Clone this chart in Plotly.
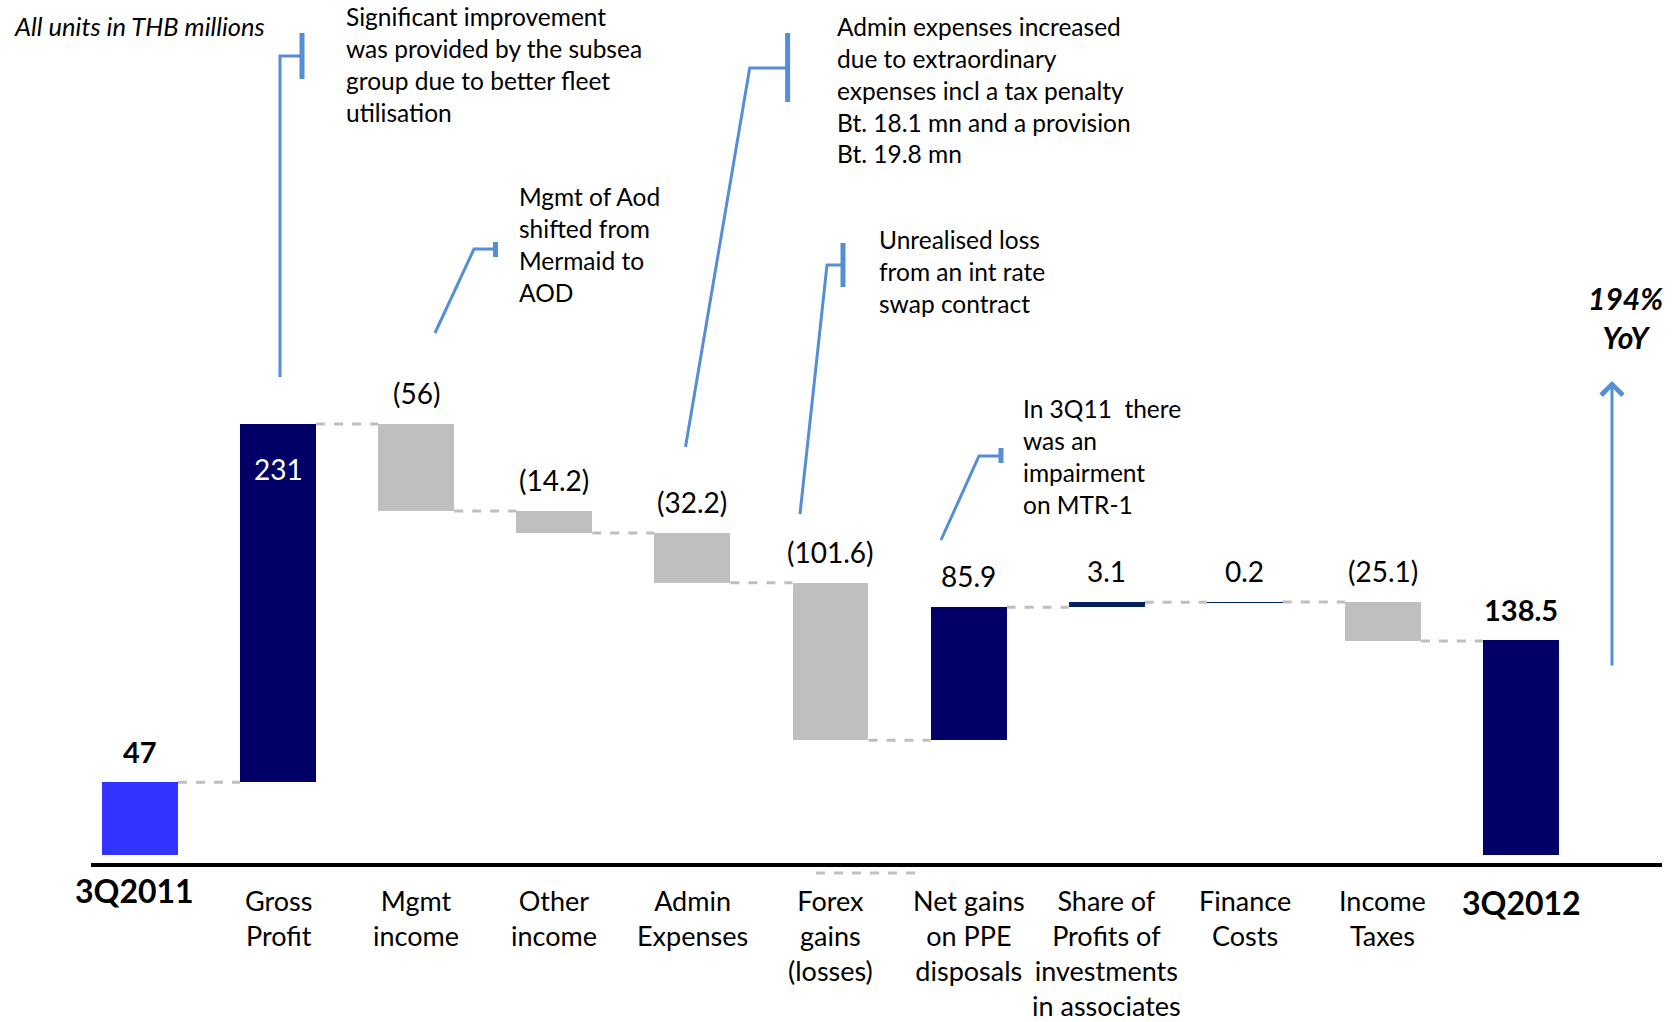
import plotly.graph_objects as go

# ---- data -------------------------------------------------------------
categories = [
    "3Q2011", "Gross Profit", "Mgmt income", "Other income", "Admin Expenses",
    "Forex gains (losses)", "Net gains on PPE disposals",
    "Share of Profits of investments in associates", "Finance Costs",
    "Income Taxes", "3Q2012",
]
tick_labels = [
    "3Q2011", "Gross<br>Profit", "Mgmt<br>income", "Other<br>income",
    "Admin<br>Expenses", "Forex<br>gains<br>(losses)",
    "Net gains<br>on PPE<br>disposals",
    "Share of<br>Profits of<br>investments<br>in associates",
    "Finance<br>Costs", "Income<br>Taxes", "3Q2012",
]
changes = [47, 231, -56, -14.2, -32.2, -101.6, 85.9, 3.1, 0.2, -25.1, 138.5]
measures = ["absolute"] + ["relative"] * 9 + ["total"]
value_labels = ["47", "231", "(56)", "(14.2)", "(32.2)", "(101.6)",
                "85.9", "3.1", "0.2", "(25.1)", "138.5"]

notes = [
    "Significant improvement<br>was provided by the subsea<br>group due to better fleet<br>utilisation",
    "Mgmt of Aod<br>shifted from<br>Mermaid to<br>AOD",
    "Admin expenses increased<br>due to extraordinary<br>expenses incl a tax penalty<br>Bt. 18.1 mn and a provision<br>Bt. 19.8 mn",
    "Unrealised loss<br>from an int rate<br>swap contract",
    "In 3Q11  there<br>was an<br>impairment<br>on MTR-1",
]
growth_text = "194%<br>YoY"
units_text = "All units in THB millions"

# ---- styles -----------------------------------------------------------
bar_colors = ["#3333FF", "#000066", "#BFBFBF", "#BFBFBF", "#BFBFBF", "#BFBFBF",
              "#000066", "#002060", "#002060", "#BFBFBF", "#000066"]
CALLOUT = "#558ED5"
FONT = "Lato"

W, H = 1674, 1022
ML, MR, MT, MB = 91, 12, 0, 159
PW, PH = W - ML - MR, H - MT - MB
PX_PER_UNIT = 1.55
BAR_W = 0.55
X_RANGE = [-0.355, 11.021]


def px(x):
    return (x - ML) / PW


def py(y):
    return (H - MB - y) / PH


# ---- waterfall geometry from the values --------------------------------
bases, heights, levels = [], [], []
running = 0.0
for v, m in zip(changes, measures):
    if m == "absolute":
        bases.append(0.0)
        heights.append(v)
        running = v
    elif m == "relative":
        bases.append(running)
        heights.append(v)
        running += v
    else:
        bases.append(0.0)
        heights.append(v)
    levels.append(running)
tops = [max(b, b + h) for b, h in zip(bases, heights)]

fig = go.Figure()
fig.add_trace(go.Bar(
    x=categories, y=heights, base=bases, width=BAR_W,
    marker=dict(color=bar_colors, line=dict(width=0)),
    hoverinfo="skip", showlegend=False,
))

shapes = []
# dashed connectors between consecutive bars
for i in range(len(categories) - 1):
    shapes.append(dict(
        type="line", xref="x", yref="y", layer="below",
        x0=i + BAR_W / 2, x1=i + 1 - BAR_W / 2, y0=levels[i], y1=levels[i],
        line=dict(color="#BFBFBF", width=3, dash="dash"),
    ))
# short stray dashed rule beneath the axis
shapes.append(dict(
    type="line", xref="paper", yref="paper",
    x0=px(816), x1=px(920), y0=py(873), y1=py(873),
    line=dict(color="#C0C0C0", width=3, dash="dash"),
))

# callout leaders: (bracket x, bracket top, bracket bottom, elbow x, elbow y, end x, end y)
callouts = [
    (302, 33, 79, 280, 56, 280, 377),
    (495.5, 242, 257, 474, 249, 435, 333),
    (787.6, 33, 102, 749.7, 68, 685.5, 447),
    (843, 243, 287, 827, 265, 800, 514),
    (1001, 448, 463, 979, 456, 941, 540),
]
for bx, bt, bb, ex, ey, tx, ty in callouts:
    shapes.append(dict(
        type="line", xref="paper", yref="paper",
        x0=px(bx), x1=px(bx), y0=py(bt), y1=py(bb),
        line=dict(color=CALLOUT, width=5),
    ))
    shapes.append(dict(
        type="path", xref="paper", yref="paper",
        path=f"M {px(bx)} {py(ey)} L {px(ex)} {py(ey)} L {px(tx)} {py(ty)}",
        line=dict(color=CALLOUT, width=3),
    ))

annotations = []
# value labels above each bar (inside for gross profit)
for i, (cat, lab) in enumerate(zip(categories, value_labels)):
    bold = measures[i] in ("absolute", "total")
    if i == 1:
        annotations.append(dict(
            x=cat, y=tops[i], xref="x", yref="y", text=lab, showarrow=False,
            yshift=-45, font=dict(family=FONT, size=28, color="white"),
        ))
    else:
        annotations.append(dict(
            x=cat, y=tops[i], xref="x", yref="y",
            text=f"<b>{lab}</b>" if bold else lab, showarrow=False,
            yshift=31, yanchor="middle",
            font=dict(family=FONT, size=29 if bold else 28, color="black"),
        ))

# category labels under the axis
for i, (cat, lab) in enumerate(zip(categories, tick_labels)):
    if measures[i] == "absolute":
        annotations.append(dict(
            x=cat, y=py(869), xref="x", yref="paper", text=f"<b>{lab}</b>",
            showarrow=False, yanchor="top", xshift=-6,
            font=dict(family=FONT, size=32, color="black"),
        ))
    elif measures[i] == "total":
        annotations.append(dict(
            x=cat, y=py(881), xref="x", yref="paper", text=f"<b>{lab}</b>",
            showarrow=False, yanchor="top",
            font=dict(family=FONT, size=32, color="black"),
        ))
    else:
        annotations.append(dict(
            x=cat, y=py(882), xref="x", yref="paper", text=lab,
            showarrow=False, yanchor="top",
            font=dict(family=FONT, size=27, color="black"),
        ))

# callout texts: (left x, centre y of the block)
note_pos = [(344, 64.5), (516.5, 244), (835.4, 90), (877, 271), (1021, 456)]
for txt, (lx, cy) in zip(notes, note_pos):
    annotations.append(dict(
        x=px(lx), y=py(cy), xref="paper", yref="paper", text=txt,
        showarrow=False, xanchor="left", yanchor="middle", align="left",
        font=dict(family=FONT, size=24.5, color="black"),
    ))

annotations.append(dict(
    x=px(12), y=py(26), xref="paper", yref="paper", text=f"<i>{units_text}</i>",
    showarrow=False, xanchor="left", yanchor="middle",
    font=dict(family=FONT, size=25.5, color="black"),
))
annotations.append(dict(
    x=px(1625), y=py(317), xref="paper", yref="paper",
    text=f"<b><i>{growth_text}</i></b>", showarrow=False,
    xanchor="center", yanchor="middle", align="center",
    font=dict(family=FONT, size=30, color="black"),
))
# upward growth arrow
annotations.append(dict(
    x=px(1612), y=py(381), xref="paper", yref="paper", text="",
    showarrow=True, ax=0, ay=286, axref="pixel", ayref="pixel",
    arrowhead=4, arrowsize=1.4, arrowwidth=3, arrowcolor=CALLOUT,
))

fig.update_layout(
    width=W, height=H,
    margin=dict(l=ML, r=MR, t=MT, b=MB, pad=0),
    paper_bgcolor="white", plot_bgcolor="white",
    bargap=0,
    xaxis=dict(
        type="category", range=X_RANGE,
        showline=True, linecolor="black", linewidth=4,
        showticklabels=False, ticks="", showgrid=False, zeroline=False,
        fixedrange=True,
    ),
    yaxis=dict(
        range=[-8 / PX_PER_UNIT, (H - MB - MT - 8) / PX_PER_UNIT],
        visible=False, showgrid=False, zeroline=False, fixedrange=True,
    ),
    shapes=shapes,
    annotations=annotations,
    font=dict(family=FONT),
)

fig.write_html("out.html")
